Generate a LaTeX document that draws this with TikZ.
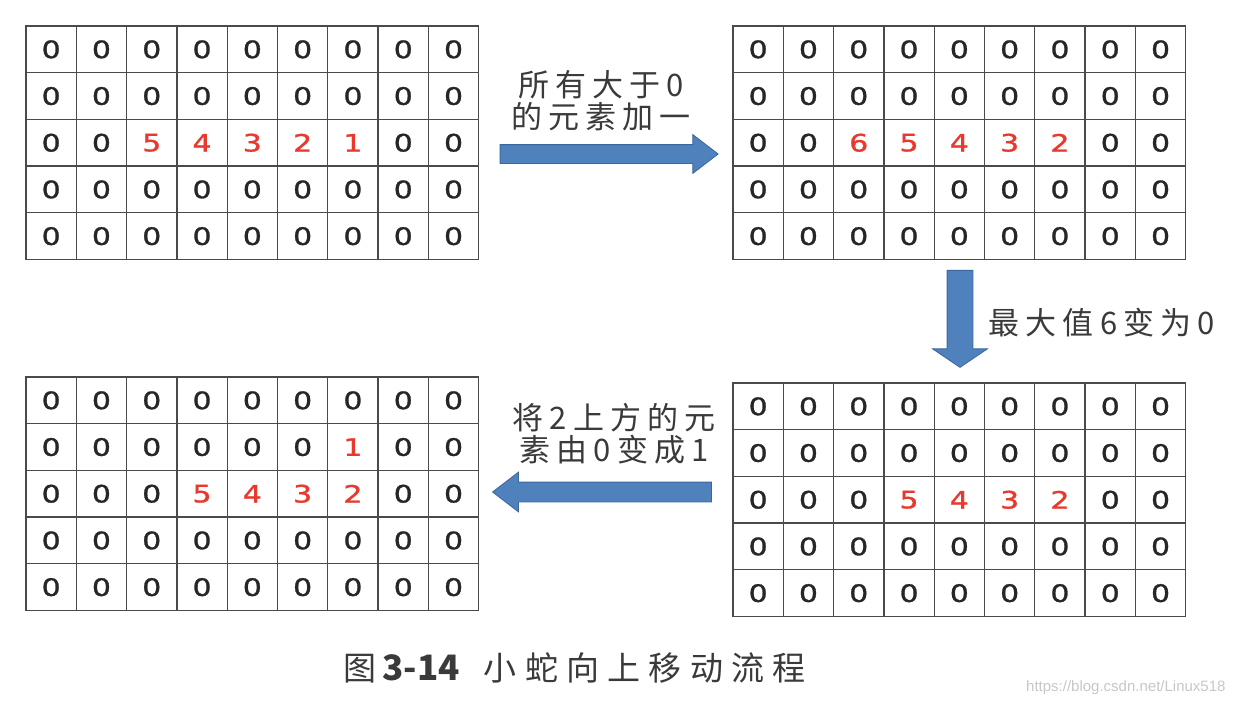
\documentclass[tikz,border=0pt]{standalone}
\usepackage{fontspec}
\setmainfont{DejaVu Sans}
\newfontfamily\cellfont[FakeStretch=1.25, FakeBold=1.2]{DejaVu Sans}
\newfontfamily\cjk[LetterSpace=20]{Noto Sans CJK SC}
\newfontfamily\capfont[LetterSpace=25]{Noto Sans CJK SC}
\newfontfamily\capnum{Noto Sans CJK SC}
\newfontfamily\wmfont{Liberation Sans}
\usetikzlibrary{positioning, shapes.arrows}
\usepackage{xcolor}

\definecolor{gridgray}{HTML}{4A4A4A}
\definecolor{numred}{HTML}{E8392E}
\definecolor{arrowblue}{HTML}{4F81BD}
\definecolor{arrowedge}{HTML}{3C679C}
\definecolor{textgray}{HTML}{3A3A3A}

\newcommand{\cellw}{50.3}
\newcommand{\cellh}{46.7}

% one 9x5 board: name, left x, top y, list of rows
\newcommand{\snakegrid}[4]{%
  \foreach \row [count=\r] in {#4}{
    \foreach \v [count=\c] in \row{
      \ifnum\v>0 \def\numcol{numred}\else\def\numcol{black!85}\fi
      \node[cell, text=\numcol] (#1-\r-\c)
        at ({#2+(\c-0.5)*\cellw},{#3+(\r-0.5)*\cellh}) {\v};
    }
  }
  \foreach \k in {0,...,9}
    \draw[gridline] ({#2+\k*\cellw},#3) -- ++(0,{5*\cellh});
  \foreach \k in {0,...,5}
    \draw[gridline] (#2,{#3+\k*\cellh}) -- ++({9*\cellw},0);
}

\begin{document}
\begin{tikzpicture}[
    x=1pt, y=-1pt,
    cell/.style={rectangle, inner sep=0pt,
      minimum width=\cellw pt, minimum height=\cellh pt,
      font=\cellfont\fontsize{24}{24}\selectfont},
    gridline/.style={draw=gridgray, line width=1.3pt, line cap=rect},
    blockarrow/.style={single arrow, draw=arrowedge, fill=arrowblue,
      line width=0.8pt, inner xsep=0pt, single arrow head indent=0pt},
    steptext/.style={text=textgray, align=center,
      font=\cjk\fontsize{31}{32}\selectfont}
]
    \useasboundingbox (0,0) rectangle (1236,705);

    % Boards
    \snakegrid{a}{26}{26}{{0,0,0,0,0,0,0,0,0},{0,0,0,0,0,0,0,0,0},
      {0,0,5,4,3,2,1,0,0},{0,0,0,0,0,0,0,0,0},{0,0,0,0,0,0,0,0,0}}
    \snakegrid{b}{733}{26}{{0,0,0,0,0,0,0,0,0},{0,0,0,0,0,0,0,0,0},
      {0,0,6,5,4,3,2,0,0},{0,0,0,0,0,0,0,0,0},{0,0,0,0,0,0,0,0,0}}
    \snakegrid{c}{733}{383}{{0,0,0,0,0,0,0,0,0},{0,0,0,0,0,0,0,0,0},
      {0,0,0,5,4,3,2,0,0},{0,0,0,0,0,0,0,0,0},{0,0,0,0,0,0,0,0,0}}
    \snakegrid{d}{26}{377}{{0,0,0,0,0,0,0,0,0},{0,0,0,0,0,0,1,0,0},
      {0,0,0,5,4,3,2,0,0},{0,0,0,0,0,0,0,0,0},{0,0,0,0,0,0,0,0,0}}

    % Arrows between boards
    \node[blockarrow, inner ysep=9pt, minimum height=218pt,
      single arrow head extend=10pt, single arrow tip angle=75]
      (step1) at (603,154) {};
    \node[blockarrow, rotate=-90, inner ysep=12.5pt, minimum height=97pt,
      single arrow head extend=14.5pt, single arrow tip angle=112]
      (step2) at (960,314.5) {};
    \node[blockarrow, rotate=180, inner ysep=9.5pt, minimum height=219pt,
      single arrow head extend=10pt, single arrow tip angle=75]
      (step3) at (608.5,492) {};

    % Step texts
    \node[steptext] (text1) at (601,101) {所有大于0\\的元素加一};
    \node[steptext, anchor=west] (text2) at (985,323) {最大值6变为0};
    \node[steptext] (text3) at (614,434) {将2上方的元\\素由0变成1};

    % Caption
    \node[anchor=west, text=textgray, font=\capfont\fontsize{33}{34}\selectfont]
      (caption) at (340,668)
      {图\hspace{6pt}{\capnum\bfseries\fontsize{35}{36}\selectfont 3-14}\hspace{24pt}小蛇向上移动流程};
    \node[anchor=east, text=black!22, font=\wmfont\fontsize{15}{15}\selectfont]
      (mark) at (1229,688) {https://blog.csdn.net/Linux518};
\end{tikzpicture}
\end{document}
